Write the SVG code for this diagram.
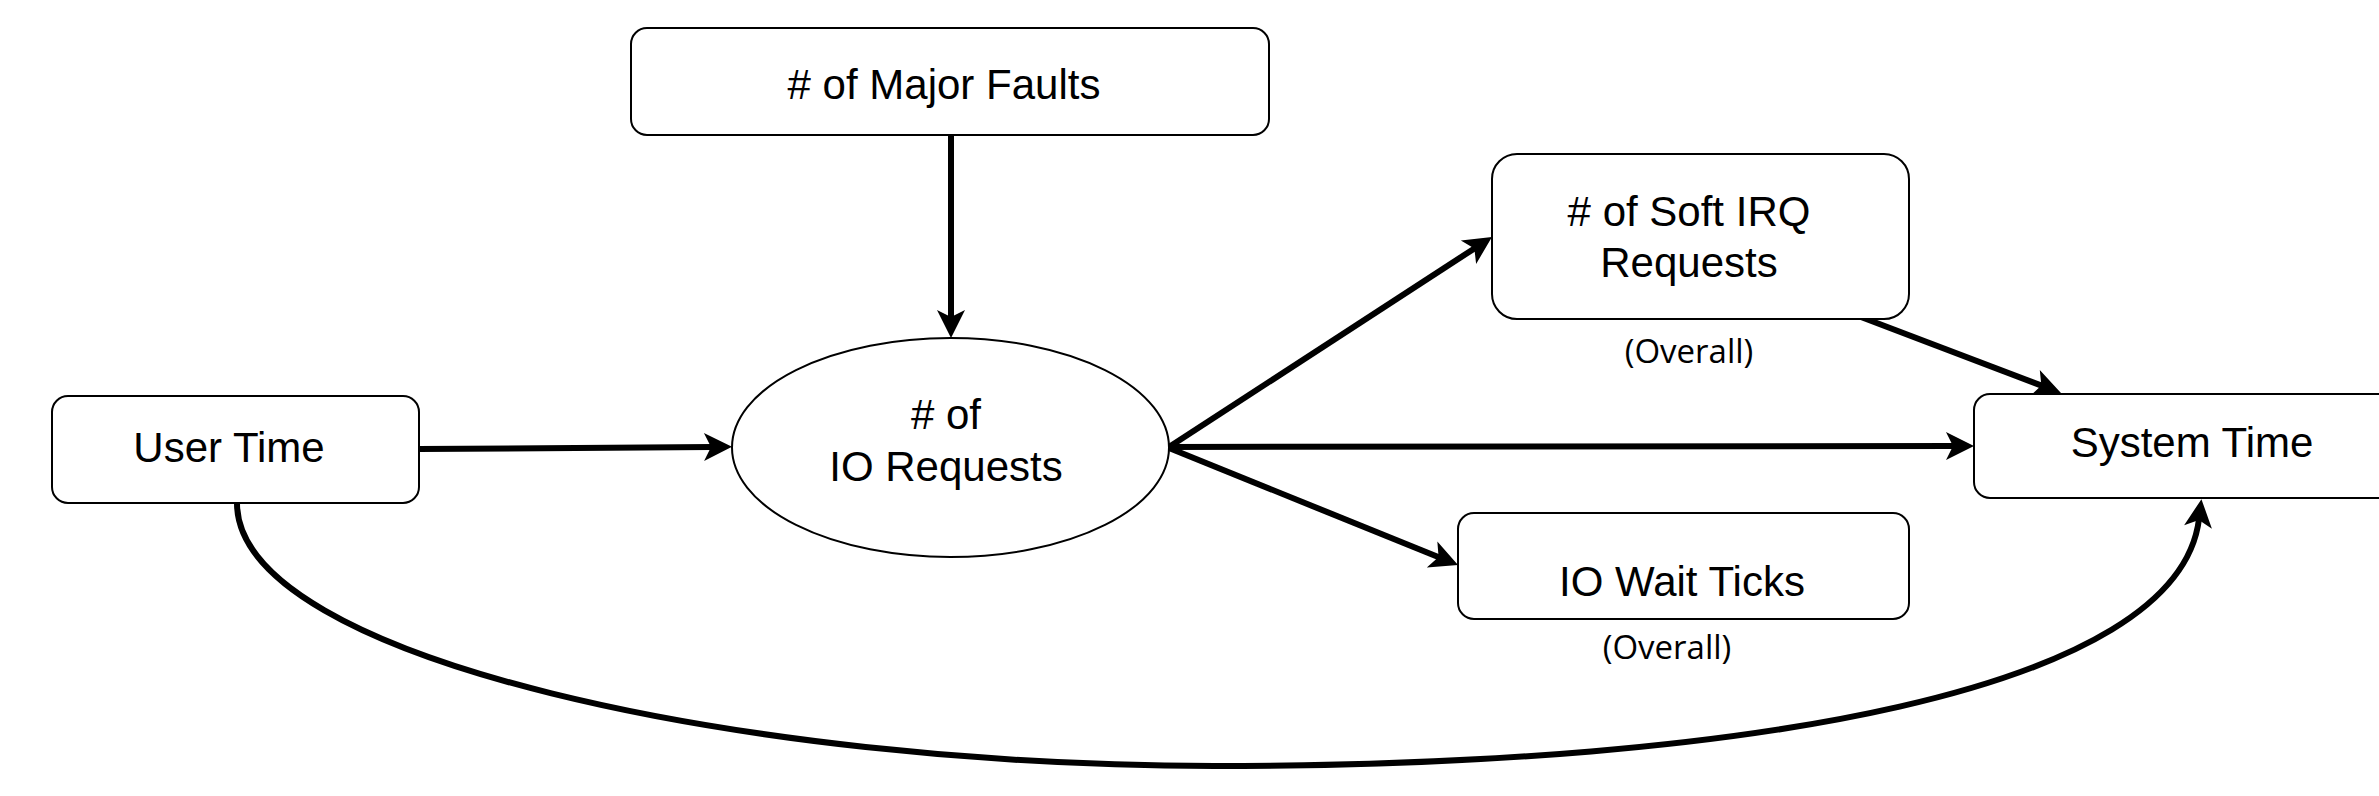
<svg xmlns="http://www.w3.org/2000/svg" width="2379" height="796" viewBox="0 0 2379 796">
<style>
.box{fill:#fff;stroke:#000;stroke-width:2}
.t{font-family:"Liberation Sans",Arial,sans-serif;font-size:42px;fill:#000;text-anchor:middle}
.n{font-family:"Open Sans","Noto Sans",sans-serif;font-size:33px;fill:#000;text-anchor:middle}
.c{fill:none;stroke:#000;stroke-width:6}
</style>
<defs>
<marker id="ah" markerUnits="userSpaceOnUse" markerWidth="30" markerHeight="30" refX="8" refY="15" orient="auto" overflow="visible">
<path d="M28,15 L0,1 L7,15 L0,29 Z" fill="#000"/>
</marker>
</defs>
<rect width="2379" height="796" fill="#fff"/>
<g id="connectors">
<path class="c" d="M951,135 L951,318" marker-end="url(#ah)"/>
<path class="c" d="M419,449 L712,447" marker-end="url(#ah)"/>
<path class="c" d="M1169,447 L1475.2,247.9" marker-end="url(#ah)"/>
<path class="c" d="M1169,447 L1954,446" marker-end="url(#ah)"/>
<path class="c" d="M1169,448 L1439.5,557.5" marker-end="url(#ah)"/>
<path class="c" d="M1861,317 L2042.3,385.9" marker-end="url(#ah)"/>
<path class="c" d="M237,503 C237,660 750,766 1214,766 C1750,766 2178,690 2199,519" marker-end="url(#ah)"/>
</g>
<g id="major-faults">
<rect class="box" x="631" y="28" width="638" height="107" rx="16"/>
<text class="t" x="944" y="99">#&#160;of Major Faults</text>
</g>
<g id="user-time">
<rect class="box" x="52" y="396" width="367" height="107" rx="16"/>
<text class="t" x="229" y="462">User Time</text>
</g>
<g id="io-requests">
<ellipse cx="950.5" cy="447.5" rx="218.5" ry="109.5" fill="#fff" stroke="#000" stroke-width="2"/>
<text class="t" x="946" y="429">#&#160;of</text>
<text class="t" x="946" y="481">IO Requests</text>
</g>
<g id="soft-irq">
<rect class="box" x="1492" y="154" width="417" height="165" rx="25"/>
<text class="t" x="1689" y="226">#&#160;of Soft IRQ</text>
<text class="t" x="1689" y="277">Requests</text>
<text class="n" x="1689" y="363">(Overall)</text>
</g>
<g id="io-wait">
<rect class="box" x="1458" y="513" width="451" height="106" rx="16"/>
<text class="t" x="1682" y="596">IO Wait Ticks</text>
<text class="n" x="1667" y="659">(Overall)</text>
</g>
<g id="system-time">
<rect class="box" x="1974" y="394" width="460" height="104" rx="16"/>
<text class="t" x="2192" y="457">System Time</text>
</g>
</svg>
